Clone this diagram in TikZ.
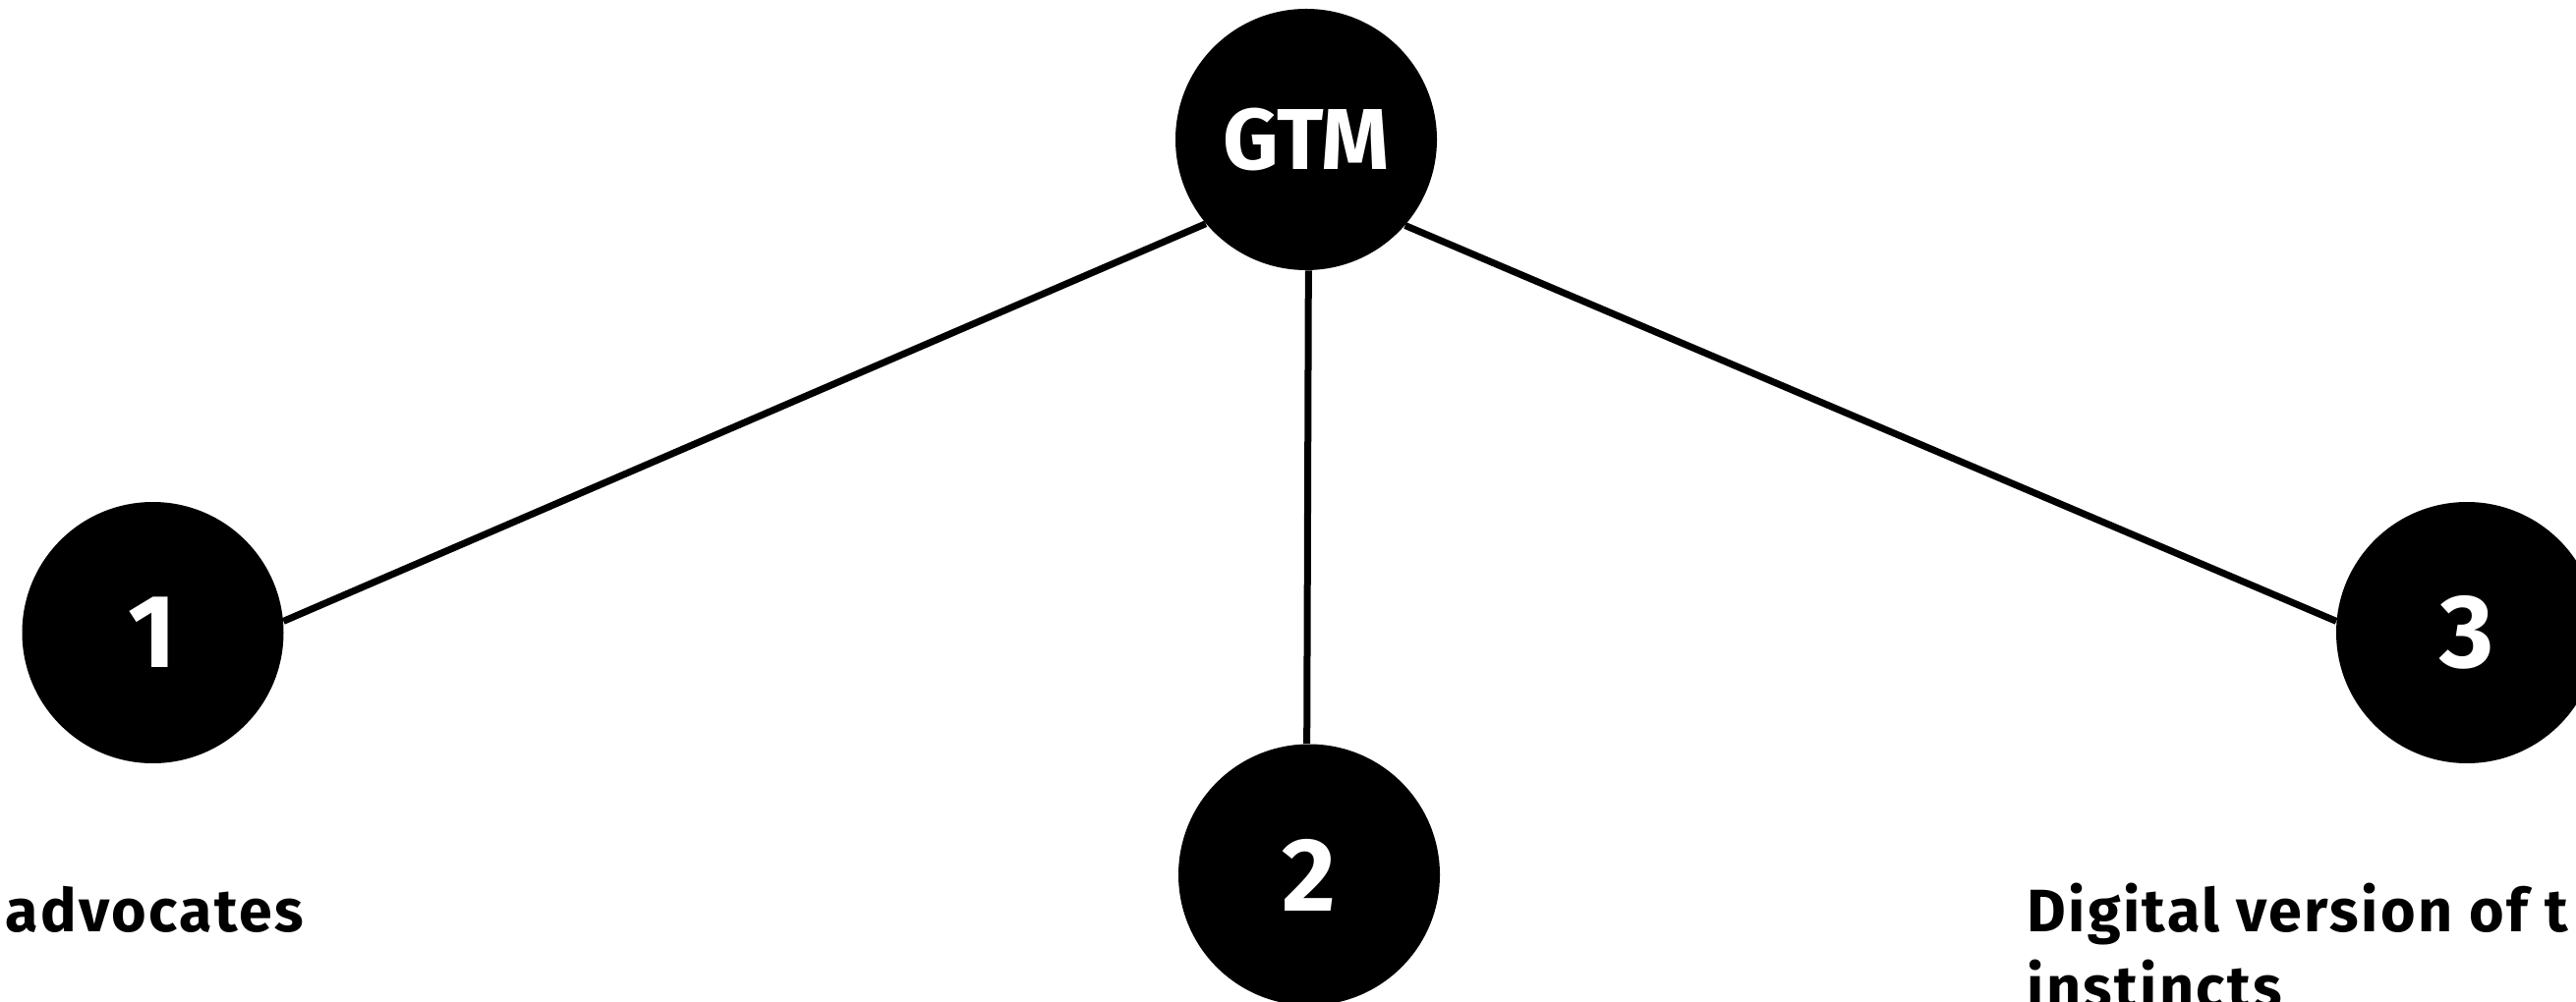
\documentclass[tikz,border=0pt]{standalone}
\usepackage{fontspec}
\setmainfont{Fira Sans}
\newfontfamily\labelfont{Fira Sans}[LetterSpace=4.0]
\begin{document}
\begin{tikzpicture}[x=0.5pt,y=-0.5pt,
  disc/.style={circle,fill=black,inner sep=0pt,minimum size=133pt,text=white,font=\bfseries\fontsize{44}{44}\selectfont},
  digit/.style={disc,font=\bfseries\fontsize{53}{53}\selectfont},
  link/.style={line width=3.5pt,black},
  lbl/.style={inner sep=0pt,font=\labelfont\bfseries\fontsize{30.5}{39}\selectfont}]
\useasboundingbox (0,0) rectangle (2621,1020);
\clip (0,0) rectangle (2621,1020);
\node[disc] (gtm) at (1329,142) {GTM};
\node[digit] (n1) at (155.5,644) {1};
\node[digit] (n2) at (1332,890.5) {2};
\node[digit] (n3) at (2510,644) {3};
\draw[link] (gtm.220.6) -- (n1.5.6);
\draw[link] (gtm.271.5) -- (n2.91.5);
\draw[link] (gtm.319.4) -- (n3.175.2);
\node[lbl, anchor=base west] (t1) at (5,948) {advocates};
\node[lbl, anchor=base west] (t3a) at (2062,948) {Digital version of t};
\node[lbl, anchor=base west] (t3b) at (2062,1026) {instincts};
\end{tikzpicture}
\end{document}
